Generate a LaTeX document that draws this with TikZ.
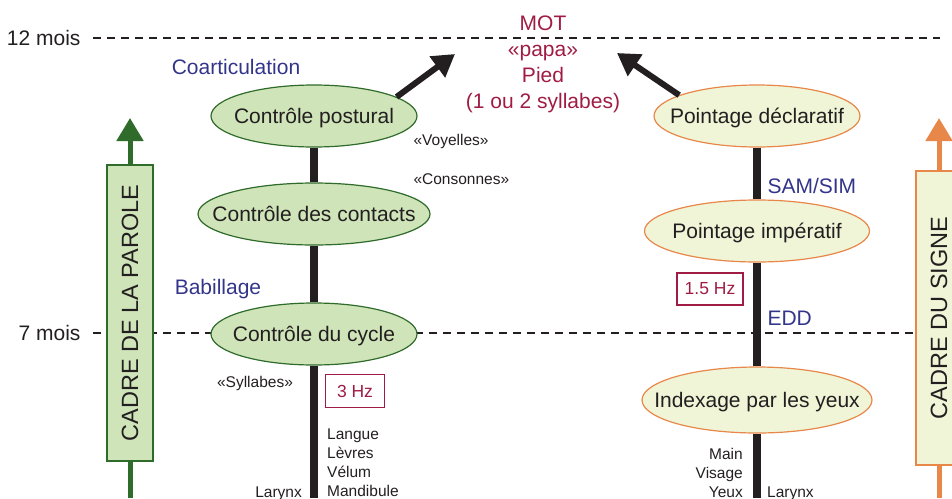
\documentclass[tikz,border=0pt]{standalone}
\usepackage{fontspec}
\setmainfont{Liberation Sans}
\usetikzlibrary{arrows.meta}
\usetikzlibrary{positioning}
\usetikzlibrary{shapes.geometric}
\usetikzlibrary{backgrounds}

\definecolor{parole}{HTML}{CFE4B9}
\definecolor{paroleline}{HTML}{2F6B2A}
\definecolor{signe}{HTML}{EFF5D6}
\definecolor{signeline}{HTML}{E8874A}
\definecolor{motred}{HTML}{A01C45}
\definecolor{stageblue}{HTML}{33358A}
\definecolor{ink}{HTML}{231F20}

\tikzset{
  big/.style={font=\fontsize{21}{26}\selectfont, text=ink},
  small/.style={font=\fontsize{15.5}{19.3}\selectfont, text=ink},
  stage/.style={font=\fontsize{21}{26}\selectfont, text=stageblue},
  ell/.style={ellipse, line width=1.2pt, inner xsep=-40pt, inner ysep=-8pt,
    text height=17pt, text depth=2pt, big},
  parole ell/.style={ell, draw=paroleline, fill=parole},
  signe ell/.style={ell, draw=signeline, fill=signe},
  cadre/.style={rectangle, rotate=90, line width=1.4pt, inner sep=0pt,
    font=\fontsize{23.5}{28}\selectfont, text=ink},
  cadre arrow/.style={line width=5pt, -{Triangle[width=26pt,length=23pt]}},
  bar/.style={line width=8pt, draw=ink},
  age/.style={line width=1.2pt, draw=ink, dash pattern=on 8pt off 6pt},
  hz box/.style={rectangle, draw=motred, line width=1.4pt, fill=white, inner sep=0pt,
    font=\fontsize{17.5}{21}\selectfont, text=motred},
  word arrow/.style={line width=6pt, draw=ink, -{Triangle[width=25pt,length=22pt]}}
}

\begin{document}
\begin{tikzpicture}[x=1pt,y=1pt]
  \useasboundingbox (0,0) rectangle (952,-498);

  % la parole
  \node[parole ell, minimum width=206, minimum height=62] (postural) at (314,-116) {Contrôle postural};
  \node[parole ell, minimum width=232, minimum height=62] (contacts) at (314,-214) {Contrôle des contacts};
  \node[parole ell, minimum width=206, minimum height=62] (cycle) at (314,-334) {Contrôle du cycle};
  \coordinate (parolebot) at (314,-498);

  % le signe
  \node[signe ell, minimum width=206, minimum height=62] (declaratif) at (757,-116) {Pointage déclaratif};
  \node[signe ell, minimum width=225, minimum height=62] (imperatif) at (757,-231) {Pointage impératif};
  \node[signe ell, minimum width=230, minimum height=66] (indexage) at (757,-400) {Indexage par les yeux};
  \coordinate (signebot) at (757,-498);

  % cadres
  \node[cadre, draw=paroleline, fill=parole, minimum width=296, minimum height=46] (cadreparole) at (130,-313) {CADRE DE LA PAROLE};
  \node[cadre, draw=signeline, fill=signe, minimum width=294, minimum height=46] (cadresigne) at (939,-318) {CADRE DU SIGNE};
  \coordinate (paroletop) at (130,-118);
  \coordinate (parolefoot) at (130,-498);
  \coordinate (signetop) at (939,-118);
  \coordinate (signefoot) at (939,-498);
  \draw[cadre arrow, paroleline] (cadreparole.east) -- (paroletop);
  \draw[line width=5pt, paroleline] (cadreparole.west) -- (parolefoot);
  \draw[cadre arrow, signeline] (cadresigne.east) -- (signetop);
  \draw[line width=5pt, signeline] (cadresigne.west) -- (signefoot);

  % ages
  \node[big, anchor=east] (douze) at (84,-38) {12 mois};
  \node[big, anchor=east] (sept) at (84,-333) {7 mois};
  \coordinate (douzefin) at (940,-38);
  \begin{pgfonlayer}{background}
    \draw[age] ([xshift=9pt]douze.east) -- (douzefin);
    \draw[age] ([xshift=9pt]sept.east) -- (sept.east -| cadresigne);
  \end{pgfonlayer}

  \draw[bar] (postural) -- (contacts) (contacts) -- (cycle) (cycle) -- (parolebot);
  \draw[bar] (declaratif) -- (imperatif) (imperatif) -- (indexage) (indexage) -- (signebot);

  % le mot
  \node[big, text=motred, align=center] (mot) at (543,-64.5) {MOT\\«papa»\\Pied\\(1 ou 2 syllabes)};
  \coordinate (motgauche) at (455,-54);
  \coordinate (motdroite) at (617,-53);
  \draw[word arrow] (postural.13) -- (motgauche);
  \draw[word arrow] (declaratif.165) -- (motdroite);

  % etapes
  \node[stage] (coart) at (236,-67) {Coarticulation};
  \node[stage] (babil) at (218,-289) {Babillage};
  \node[stage, anchor=west] (samsim) at (764,-186) {SAM/SIM};
  \node[stage, anchor=west] (edd) at (764,-318) {EDD};

  \node[small, anchor=west] (voyelles) at (410,-141) {«Voyelles»};
  \node[small, anchor=west] (consonnes) at (410,-179) {«Consonnes»};
  \node[small] (syllabes) at (255,-383) {«Syllabes»};

  \node[hz box, minimum width=59, minimum height=33] (troishz) at (355,-391) {3 Hz};
  \node[hz box, minimum width=66, minimum height=32] (unhz) at (710,-289) {1.5 Hz};

  % effecteurs
  \foreach \w [count=\i] in {Langue,Lèvres,Vélum,Mandibule}
    \node[small, anchor=base west, inner sep=0pt] (art\i) at (327,{-439-19.3*(\i-1)}) {\w};
  \node[small, anchor=base east, inner sep=0pt] (larynxg) at (302,-497) {Larynx};
  \foreach \w [count=\i] in {Main,Visage,Yeux}
    \node[small, anchor=base east, inner sep=0pt] (eff\i) at (743,{-459-19.3*(\i-1)}) {\w};
  \node[small, anchor=base west, inner sep=0pt] (larynxd) at (767,-497) {Larynx};
\end{tikzpicture}
\end{document}
